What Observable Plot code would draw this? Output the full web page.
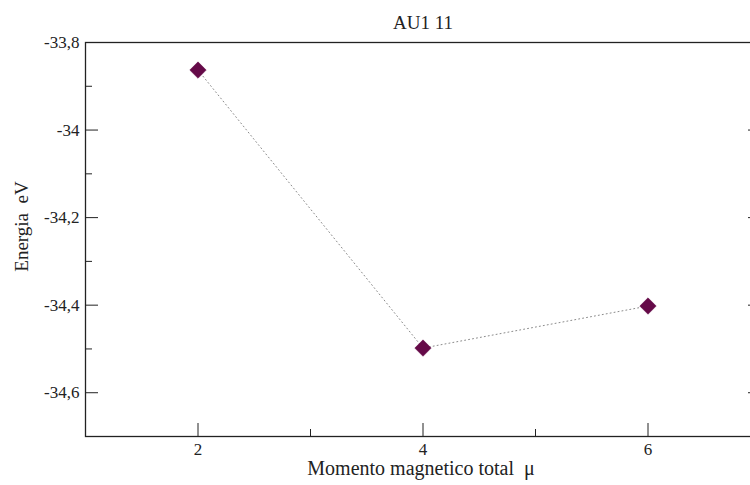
<!DOCTYPE html>
<html>
<head>
<meta charset="utf-8">
<script src="https://cdn.jsdelivr.net/npm/d3@7"></script>
<script src="https://cdn.jsdelivr.net/npm/@observablehq/plot@0.6"></script>
<style>
  html, body { margin: 0; padding: 0; background: #fff; overflow: hidden; }
  #chart svg { overflow: hidden; }
  #chart svg text { font-family: 'Liberation Serif', 'DejaVu Serif', serif !important; }
</style>
</head>
<body>
<div id="chart"></div>
<script>
// Total magnetic moment vs. energy for the AU1 11 cluster
const moment = [2, 4, 6];
const energy = [-33.863, -34.498, -34.402];

const xMajor = [2, 4, 6];
const xMinor = [3, 5];
const yMajor = [-33.8, -34.0, -34.2, -34.4, -34.6];
const yMinor = [-33.9, -34.1, -34.3, -34.5, -34.7];

const title = "AU1 11";
const xLabel = "Momento magnetico total  \u03bc";
const yLabel = "Energia  eV";

const points = moment.map((m, i) => ({moment: m, energy: energy[i]}));

const fmt = d => String(+d.toFixed(1)).replace(".", ",");
const ink = "#222";
const serif = "'Liberation Serif', 'DejaVu Serif', serif";

const chart = Plot.plot({
  width: 750,
  height: 485,
  marginLeft: 85,
  marginRight: -10,
  marginTop: 42,
  marginBottom: 49,
  style: {fontFamily: serif, fontSize: "17px", color: ink, background: "#fff"},
  x: {domain: [1, 7]},
  y: {domain: [-34.7, -33.8]},
  marks: [
    Plot.frame({stroke: ink, strokeWidth: 1.3}),
    // tick labels
    Plot.axisX(xMajor, {tickSize: 0, tickPadding: 6, tickFormat: d => String(d), label: null, fontSize: 17, fontFamily: serif, fill: ink}),
    Plot.axisY(yMajor, {tickSize: 0, tickPadding: 6, tickFormat: fmt, label: null, fontSize: 17, fontFamily: serif, fill: ink}),
    // inward ticks
    Plot.axisX(xMajor, {tickSize: -13, tickFormat: () => "", label: null, stroke: ink}),
    Plot.axisX(xMinor, {tickSize: -7, tickFormat: () => "", label: null, stroke: ink}),
    Plot.axisY(yMajor, {tickSize: -13, tickFormat: () => "", label: null, stroke: ink}),
    Plot.axisY(yMinor, {tickSize: -7, tickFormat: () => "", label: null, stroke: ink}),
    Plot.axisY(yMajor, {anchor: "right", tickSize: -13, tickFormat: () => "", label: null, stroke: ink}),
    Plot.axisY(yMinor, {anchor: "right", tickSize: -7, tickFormat: () => "", label: null, stroke: ink}),
    // data
    Plot.line(points, {x: "moment", y: "energy", stroke: "#8a8a8a", strokeWidth: 1, strokeDasharray: "1 3"}),
    Plot.dot(points, {x: "moment", y: "energy", symbol: "diamond2", r: 7.4, fill: "#650a48", stroke: "#650a48", strokeWidth: 0.5}),
    // titles
    Plot.text([title], {frameAnchor: "top", lineAnchor: "middle", textAnchor: "middle", dy: -20, fontSize: 19, fontFamily: serif, fill: ink}),
    Plot.text([xLabel], {frameAnchor: "bottom", lineAnchor: "middle", textAnchor: "middle", dx: -2, dy: 32, fontSize: 20, fontFamily: serif, fill: ink}),
    Plot.text([yLabel], {frameAnchor: "left", lineAnchor: "middle", textAnchor: "middle", dx: -64, dy: -13, rotate: -90, fontSize: 19, fontFamily: serif, fill: ink})
  ]
});

document.getElementById("chart").append(chart);
</script>
</body>
</html>
